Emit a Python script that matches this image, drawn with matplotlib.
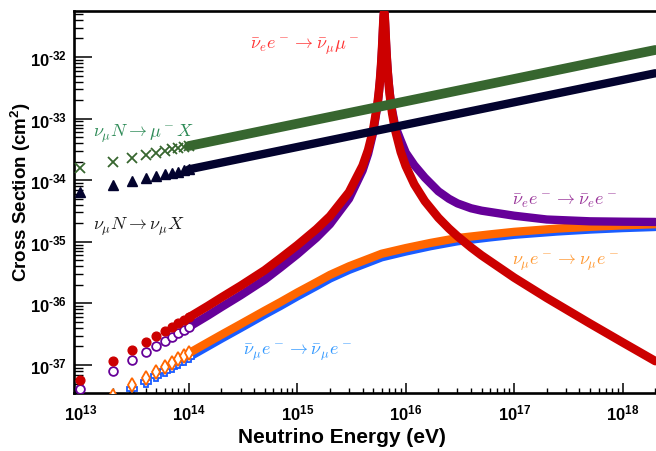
import matplotlib
matplotlib.use("Agg")
import matplotlib.pyplot as plt
from matplotlib.ticker import LogLocator, FuncFormatter, NullFormatter
import numpy as np

# ---------------- data ----------------
# individually visible low-energy points (eV)
E_low = [1e13, 2e13, 3e13, 4e13, 5e13, 6e13, 7e13, 8e13, 9e13, 1e14]
green_low = [1.56e-34, 2.00e-34, 2.32e-34, 2.57e-34, 2.79e-34, 2.98e-34, 3.15e-34, 3.31e-34, 3.45e-34, 3.59e-34]
navy_low = [6.5e-35, 8.36e-35, 9.69e-35, 1.075e-34, 1.166e-34, 1.245e-34, 1.318e-34, 1.383e-34, 1.443e-34, 1.50e-34]
red_low = [5.77e-38, 1.157e-37, 1.742e-37, 2.33e-37, 2.92e-37, 3.52e-37, 4.12e-37, 4.72e-37, 5.33e-37, 5.93e-37]
purple_low = [4.01e-38, 8.04e-38, 1.211e-37, 1.62e-37, 2.03e-37, 2.45e-37, 2.86e-37, 3.28e-37, 3.70e-37, 4.13e-37]
orange_low = [1.55e-38, 3.11e-38, 4.66e-38, 6.21e-38, 7.77e-38, 9.32e-38, 1.087e-37, 1.242e-37, 1.398e-37, 1.553e-37]
blue_low = [1.34e-38, 2.68e-38, 4.02e-38, 5.36e-38, 6.70e-38, 8.04e-38, 9.38e-38, 1.072e-37, 1.206e-37, 1.34e-37]

# deep-inelastic bands
E_dis = [1e14, 1e15, 1e16, 1e17, 1e18, 2e18]
green_dis = [3.59e-34, 8.28e-34, 1.91e-33, 4.40e-33, 1.015e-32, 1.30e-32]
navy_dis = [1.50e-34, 3.46e-34, 7.98e-34, 1.84e-33, 4.24e-33, 5.45e-33]

# resonance bands (nu_e-bar e)
E_res = [1e14, 1.5e14, 2e14, 3e14, 5e14, 7e14, 1e15, 1.5e15, 2e15, 3e15, 4e15, 4.5e15,
         5e15, 5.5e15, 5.6e15, 5.65e15, 5.7e15, 5.75e15, 5.8e15, 5.85e15, 5.9e15, 5.95e15,
         6.0e15, 6.05e15, 6.1e15, 6.15e15, 6.2e15, 6.25e15, 6.3e15, 6.35e15, 6.4e15, 6.45e15,
         6.5e15, 6.55e15, 6.6e15, 6.65e15, 6.7e15, 6.75e15, 6.8e15, 6.85e15, 6.9e15, 7.0e15,
         7.1e15, 7.2e15, 7.5e15, 8e15, 9e15, 1e16, 1.2e16, 1.5e16, 2e16, 2.5e16, 3e16, 4e16,
         5e16, 1e17, 2e17, 5e17, 1e18, 2e18]
red_res = [5.93e-37, 9.1e-37, 1.25e-36, 1.93e-36, 3.45e-36, 5.4e-36, 8.8e-36, 1.6e-35, 2.6e-35,
           6.4e-35, 1.72e-34, 3.1e-34, 6.5e-34, 1.81e-33, 2.359e-33, 2.728e-33, 3.183e-33,
           3.754e-33, 4.481e-33, 5.422e-33, 6.665e-33, 8.345e-33, 1.066e-32, 1.393e-32, 1.861e-32,
           2.531e-32, 3.448e-32, 4.515e-32, 5.304e-32, 5.246e-32, 4.418e-32, 3.384e-32, 2.519e-32,
           1.886e-32, 1.440e-32, 1.125e-32, 8.982e-33, 7.320e-33, 6.070e-33, 5.111e-33, 4.362e-33,
           3.286e-33, 2.567e-33, 2.064e-33, 1.214e-33, 6.449e-34, 2.867e-34, 1.693e-34, 8.536e-35,
           4.571e-35, 2.454e-35, 1.645e-35, 1.229e-35, 8.10e-36, 6.02e-36, 2.617e-36, 1.2245e-36,
           4.712e-37, 2.326e-37, 1.156e-37]
purple_res = [4.13e-37, 6.34e-37, 8.72e-37, 1.349e-36, 2.42e-36, 3.81e-36, 6.27e-36, 1.16e-35,
              1.93e-35, 5.0e-35, 1.434e-34, 2.68e-34, 5.84e-34, 1.69e-33, 2.222e-33, 2.580e-33,
              3.022e-33, 3.579e-33, 4.290e-33, 5.212e-33, 6.434e-33, 8.089e-33, 1.038e-32,
              1.362e-32, 1.827e-32, 2.495e-32, 3.413e-32, 4.488e-32, 5.295e-32, 5.260e-32,
              4.448e-32, 3.422e-32, 2.558e-32, 1.924e-32, 1.475e-32, 1.157e-32, 9.280e-33,
              7.595e-33, 6.326e-33, 5.350e-33, 4.586e-33, 3.485e-33, 2.746e-33, 2.228e-33,
              1.346e-33, 7.5e-34, 4.4e-34, 2.8e-34, 1.75e-34, 1.1e-34, 6.6e-35, 5.0e-35,
              4.2e-35, 3.5e-35, 3.2e-35, 2.65e-35, 2.3e-35, 2.15e-35, 2.12e-35, 2.1e-35]

# nu_mu e elastic bands
E_el = [1e14, 1.5e14, 2e14, 3e14, 5e14, 7e14, 1e15, 1.5e15, 2e15, 3e15, 6e15, 1e16, 1.7e16,
        3e16, 6e16, 1e17, 2.5e17, 5e17, 1e18, 2e18]
orange_el = [1.553e-37, 2.33e-37, 3.1e-37, 4.6e-37, 7.6e-37, 1.05e-36, 1.5e-36, 2.2e-36, 2.9e-36,
             4.0e-36, 6.4e-36, 7.9e-36, 9.6e-36, 1.15e-35, 1.32e-35, 1.45e-35, 1.64e-35,
             1.75e-35, 1.85e-35, 1.93e-35]
blue_el = [1.34e-37, 2.01e-37, 2.68e-37, 3.98e-37, 6.6e-37, 9.1e-37, 1.3e-36, 1.91e-36, 2.53e-36,
           3.5e-36, 5.6e-36, 6.95e-36, 8.5e-36, 1.02e-35, 1.18e-35, 1.3e-35, 1.47e-35,
           1.58e-35, 1.67e-35, 1.74e-35]

x_ticks = [1e13, 1e14, 1e15, 1e16, 1e17, 1e18]
y_ticks = [1e-37, 1e-36, 1e-35, 1e-34, 1e-33, 1e-32]

# ---------------- style ----------------
plt.rcParams['font.family'] = ['Liberation Sans', 'DejaVu Sans']
plt.rcParams['mathtext.fontset'] = 'custom'
plt.rcParams['mathtext.rm'] = 'Liberation Sans:bold'
plt.rcParams['mathtext.bf'] = 'Liberation Sans:bold'
plt.rcParams['mathtext.it'] = 'Liberation Sans:bold'
plt.rcParams['mathtext.sf'] = 'Liberation Sans:bold'

W, H = 656, 452
fig = plt.figure(figsize=(W / 100, H / 100), dpi=100)
ax = fig.add_axes([74 / W, 1 - 394 / H, 582 / W, 382 / H])

c_green = '#37662f'
c_navy = '#03032e'
c_red = '#cc0000'
c_purple = '#660099'
c_orange = '#ff6600'
c_blue = '#1a5cff'

series = [
    # E band, band vals, low vals, color, marker, filled, z, lw, ms
    (E_el, blue_el, blue_low, c_blue, 'P', False, 2, 6.0, 6.5),
    (E_el, orange_el, orange_low, c_orange, 'd', False, 3, 6.0, 7.5),
    (E_res, purple_res, purple_low, c_purple, 'o', False, 4, 6.0, 6.3),
    (E_res, red_res, red_low, c_red, 'o', True, 5, 6.2, 6.3),
    (E_dis, navy_dis, navy_low, c_navy, '^', True, 6, 6.0, 6.5),
    (E_dis, green_dis, green_low, c_green, 'x', True, 7, 7.0, 6.5),
]
for Eb, vb, vl, col, mk, filled, z, lw, ms in series:
    ax.plot(Eb, vb, color=col, lw=lw, solid_capstyle='round',
            solid_joinstyle='round', zorder=z)
    if mk == 'x':
        ax.plot(E_low, vl, ls='none', marker=mk, ms=ms, mew=1.3, color=col, zorder=z)
    elif filled:
        ax.plot(E_low, vl, ls='none', marker=mk, ms=ms, mfc=col, mec=col, zorder=z)
    else:
        ax.plot(E_low, vl, ls='none', marker=mk, ms=ms, mfc='white', mec=col,
                mew=1.3, zorder=z)

ax.set_xscale('log')
ax.set_yscale('log')
ax.set_xlim(10 ** 12.941, 2.03e18)
ax.set_ylim(3.51e-38, 5.58e-32)


def fmt_func(v, p):
    e = int(round(np.log10(v)))
    return r'$\mathbf{10^{\text{%d}}}$' % e


fmt = FuncFormatter(fmt_func)
ax.set_xticks(x_ticks)
ax.set_yticks(y_ticks)
ax.xaxis.set_major_formatter(fmt)
ax.yaxis.set_major_formatter(fmt)
ax.xaxis.set_minor_locator(LogLocator(base=10, subs=np.arange(2, 10), numticks=100))
ax.yaxis.set_minor_locator(LogLocator(base=10, subs=np.arange(2, 10), numticks=100))
ax.xaxis.set_minor_formatter(NullFormatter())
ax.yaxis.set_minor_formatter(NullFormatter())

ax.tick_params(axis='x', which='major', direction='in', length=7.2, width=1.1,
               labelsize=12, pad=7, top=False)
ax.tick_params(axis='x', which='minor', direction='in', length=3.6, width=1.0, top=False)
ax.tick_params(axis='y', which='major', direction='in', length=13, width=1.1,
               labelsize=12, pad=5, right=False)
ax.tick_params(axis='y', which='minor', direction='in', length=6.5, width=1.0, right=False)

for s in ['left', 'bottom', 'top']:
    ax.spines[s].set_linewidth(1.9)
ax.spines['right'].set_visible(False)

# axis titles
fig.text(342 / W, 1 - 438 / H, 'Neutrino Energy (eV)', ha='center', va='center',
         fontsize=15, fontweight='bold')
fig.text(21 / W, 1 - 192 / H, r'Cross Section (cm$^{2}$)', ha='center', va='center',
         rotation=90, fontsize=13.5, fontweight='bold')

# curve labels
labels = [
    (250, 47, r'$\bar{\nu}_e e^- \rightarrow \bar{\nu}_\mu \mu^-$', '#ff3333'),
    (93, 134, r'$\nu_\mu N \rightarrow \mu^- X$', '#2e8b57'),
    (93, 227, r'$\nu_\mu N \rightarrow \nu_\mu X$', '#1a1a1a'),
    (512, 201, r'$\bar{\nu}_e e^- \rightarrow \bar{\nu}_e e^-$', '#993399'),
    (512, 263, r'$\nu_\mu e^- \rightarrow \nu_\mu e^-$', '#ff9933'),
    (243, 353, r'$\bar{\nu}_\mu e^- \rightarrow \bar{\nu}_\mu e^-$', '#3399ff'),
]
for lx, ly, txt, col in labels:
    t = fig.text(lx / W, 1 - ly / H, txt, ha='left', va='center', fontsize=13, color=col)
    t.set_math_fontfamily('cm')

fig.savefig('out.png', dpi=100)
